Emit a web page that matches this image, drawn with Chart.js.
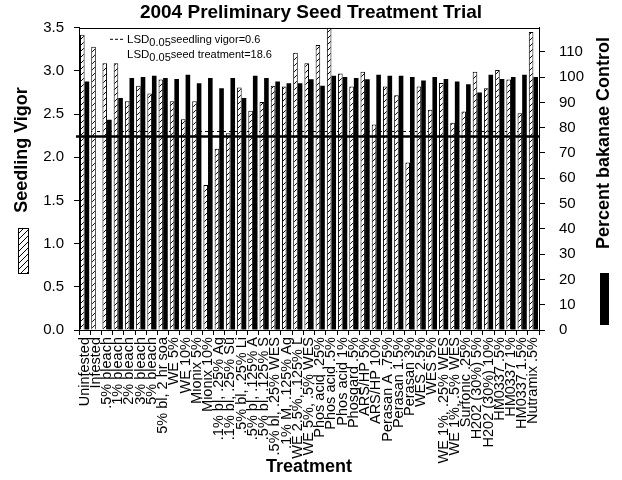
<!DOCTYPE html>
<html>
<head>
<meta charset="utf-8">
<script src="https://cdn.jsdelivr.net/npm/chart.js@4.4.0/dist/chart.umd.min.js"></script>
<style>
  html, body { margin: 0; padding: 0; background: #fff; }
  #wrap { width: 622px; height: 480px; }
</style>
</head>
<body>
<div id="wrap"><canvas id="chart" width="622" height="480"></canvas></div>
<script>
// ── data ──
const TREATMENTS = [
  'Uninfested', 'Infested', '.5% bleach', '1% bleach', '2% bleach', '3% bleach', '5% bleach',
  '5% bl, 2 hr soa', 'WE 5%', 'WE 10%', 'Mionix 5%', 'Mionix 10%',
  '.1% bl, .25% Ag', '.1% bl, .25% Su', '.5% bl, .25% Li', '.5% bl, .125% A', '.5% bl, .125% S',
  '.5% bl, .25% WES', '.1% M, .125% Ag', 'WE 2.5%, .125% L', 'WE 5%, .5% WES',
  'Phos acid .25%', 'Phos acid .5%', 'Phos acid 1%', 'Phosgard .5%', 'ARS/HP 5%', 'ARS/HP 10%',
  'Perasan A .75%', 'Perasan 1.5%', 'Perasan 3%', 'WES 2.5%', 'WES 5%',
  'WE 1%, .25% WES', 'WE 1%, .5% WES', 'Surfonic .25%', 'H202 (30%) 5%', 'H202 (30%) 10%',
  'HM0337 .5%', 'HM0337 1%', 'HM0337 1.5%', 'Nutramix .5%'
];

const SEEDLING_VIGOR = [
  3.42, 3.28, 3.09, 3.09, 2.65, 2.83, 2.74, 2.90, 2.65, 2.44, 2.65,
  1.68, 2.10, 2.28, 2.81, 2.54, 2.64, 2.83, 2.82, 3.21, 3.09,
  3.30, 3.50, 2.97, 2.82, 2.99, 2.38, 2.82, 2.72, 1.94, 2.82,
  2.55, 2.86, 2.40, 2.53, 2.99, 2.80, 3.01, 2.90, 2.51, 3.45
];

const BAKANAE_CONTROL = [
  98.3, 0, 83.1, 91.7, 99.6, 100, 100.5, 99.6, 99.3, 100.9, 97.6,
  99.6, 95.6, 99.6, 91.7, 100.5, 99.6, 98.3, 97.6, 97.6, 99.2,
  96.6, 100.5, 100, 99.6, 99.2, 100.9, 100.5, 100.5, 100, 98.7,
  100, 99.3, 98.3, 97.2, 93.9, 100.9, 99.3, 100, 100.9, 100
];

const VIGOR_TICKS = [0, 0.5, 1.0, 1.5, 2.0, 2.5, 3.0, 3.5];
const CONTROL_TICKS = [0, 10, 20, 30, 40, 50, 60, 70, 80, 90, 100, 110];

const LSD_VIGOR_LINE = 2.3;     // dashed reference
const LSD_CONTROL_LINE = 76.5;  // solid reference
const FONT = "'Liberation Sans', Arial, sans-serif";

// crisp pixel hatch, "/" direction
function makeHatch() {
  const n = 6;
  const c = document.createElement('canvas');
  c.width = n; c.height = n;
  const g = c.getContext('2d');
  g.fillStyle = '#fff';
  g.fillRect(0, 0, n, n);
  g.fillStyle = '#000';
  for (let x = 0; x < n; x++) g.fillRect(x, n - 1 - x, 1, 1);
  return g.createPattern(c, 'repeat');
}
const HATCH = makeHatch();

function drawLsd(ctx, x, y, rest) {
  ctx.font = '11.5px ' + FONT;
  ctx.fillText('LSD', x, y);
  x += ctx.measureText('LSD').width;
  ctx.font = '11px ' + FONT;
  ctx.fillText('0.05', x, y + 3);
  x += ctx.measureText('0.05').width;
  ctx.fillText(rest, x, y);
}

const decorations = {
  id: 'decorations',
  beforeDatasetsDraw(chart) {
    const { ctx, chartArea: a, scales } = chart;
    const y = Math.round(scales.y.getPixelForValue(LSD_VIGOR_LINE)) + 0.5;
    ctx.save();
    ctx.strokeStyle = '#000';
    ctx.lineWidth = 1;
    ctx.setLineDash([3, 3]);
    ctx.beginPath();
    ctx.moveTo(a.left, y);
    ctx.lineTo(a.right, y);
    ctx.stroke();
    ctx.restore();
  },
  afterDatasetsDraw(chart) {
    const { ctx, chartArea: a, scales } = chart;
    ctx.save();
    // solid LSD line over the bars
    const y = scales.y1.getPixelForValue(LSD_CONTROL_LINE);
    ctx.strokeStyle = '#000';
    ctx.lineWidth = 2.6;
    ctx.beginPath();
    ctx.moveTo(a.left - 3, y);
    ctx.lineTo(a.right, y);
    ctx.stroke();

    // frame
    ctx.lineWidth = 1;
    ctx.strokeRect(Math.round(a.left) + 0.5, Math.round(a.top) + 0.5,
      Math.round(a.right - a.left), Math.round(a.bottom - a.top));

    // in-plot legend
    ctx.fillStyle = '#000';
    ctx.textBaseline = 'alphabetic';
    ctx.setLineDash([3, 2]);
    ctx.beginPath();
    ctx.moveTo(a.left + 31, a.top + 11.5);
    ctx.lineTo(a.left + 45, a.top + 11.5);
    ctx.stroke();
    ctx.setLineDash([]);
    drawLsd(ctx, a.left + 48, a.top + 15, 'seedling vigor=0.6');
    drawLsd(ctx, a.left + 48, a.top + 30, 'seed treatment=18.6');
    ctx.restore();
  },
  afterDraw(chart) {
    const { ctx, chartArea: a } = chart;
    ctx.save();
    ctx.fillStyle = '#000';
    ctx.font = 'bold 18px ' + FONT;
    ctx.textAlign = 'center';
    ctx.textBaseline = 'middle';

    // left axis title + hatched key
    ctx.save();
    ctx.translate(22, 150);
    ctx.rotate(-Math.PI / 2);
    ctx.fillText('Seedling Vigor', 0, 0);
    ctx.restore();
    ctx.fillStyle = HATCH;
    ctx.fillRect(18, 228, 10, 45);
    ctx.strokeStyle = '#000';
    ctx.lineWidth = 1;
    ctx.strokeRect(18.5, 228.5, 10, 45);

    // right axis title + solid key
    ctx.fillStyle = '#000';
    ctx.save();
    ctx.translate(604, 143);
    ctx.rotate(-Math.PI / 2);
    ctx.fillText('Percent bakanae Control', 0, 0);
    ctx.restore();
    ctx.fillRect(600, 273, 9, 52);

    // x axis title
    ctx.fillText('Treatment', (a.left + a.right) / 2, 467);
    ctx.restore();
  }
};

new Chart(document.getElementById('chart'), {
  type: 'bar',
  data: {
    labels: TREATMENTS,
    datasets: [
      {
        label: 'Seedling Vigor',
        data: SEEDLING_VIGOR,
        yAxisID: 'y',
        backgroundColor: HATCH,
        borderColor: '#000',
        borderWidth: 1,
        borderSkipped: 'bottom',
        categoryPercentage: 0.82,
        barPercentage: 1.0,
      },
      {
        label: 'Percent bakanae Control',
        data: BAKANAE_CONTROL,
        yAxisID: 'y1',
        backgroundColor: '#000',
        borderWidth: 0,
        categoryPercentage: 0.82,
        barPercentage: 1.0,
      },
    ],
  },
  options: {
    responsive: false,
    animation: false,
    devicePixelRatio: 1,
    layout: { padding: 0 },
    plugins: {
      legend: { display: false },
      tooltip: { enabled: false },
      title: {
        display: true,
        text: '2004 Preliminary Seed Treatment Trial',
        color: '#000',
        font: { family: FONT, size: 19, weight: 'bold' },
        padding: { top: 1, bottom: 4 },
      },
    },
    scales: {
      x: {
        offset: true,
        afterFit: s => { s.height = 150; },
        grid: { display: true, drawOnChartArea: false, offset: true, color: '#000', tickLength: 5 },
        border: { display: true, color: '#000', width: 1 },
        ticks: {
          autoSkip: false,
          maxRotation: 90,
          minRotation: 90,
          padding: 2,
          color: '#000',
          font: { family: FONT, size: 14.5 },
        },
      },
      y: {
        position: 'left',
        min: 0,
        max: 3.5,
        afterFit: s => { s.width = 79; },
        afterBuildTicks: s => { s.ticks = VIGOR_TICKS.map(v => ({ value: v })); },
        grid: { display: true, drawOnChartArea: false, color: '#000', tickLength: 5 },
        border: { display: true, color: '#000', width: 1 },
        ticks: {
          padding: 10,
          color: '#000',
          font: { family: FONT, size: 15 },
          callback: v => v.toFixed(1),
        },
      },
      y1: {
        position: 'right',
        min: 0,
        max: 119.5,
        afterFit: s => { s.width = 83; },
        afterBuildTicks: s => { s.ticks = CONTROL_TICKS.map(v => ({ value: v })); },
        grid: { display: true, drawOnChartArea: false, color: '#000', tickLength: 6 },
        border: { display: true, color: '#000', width: 1 },
        ticks: {
          padding: 14,
          color: '#000',
          font: { family: FONT, size: 15 },
        },
      },
    },
  },
  plugins: [decorations],
});
</script>
</body>
</html>
